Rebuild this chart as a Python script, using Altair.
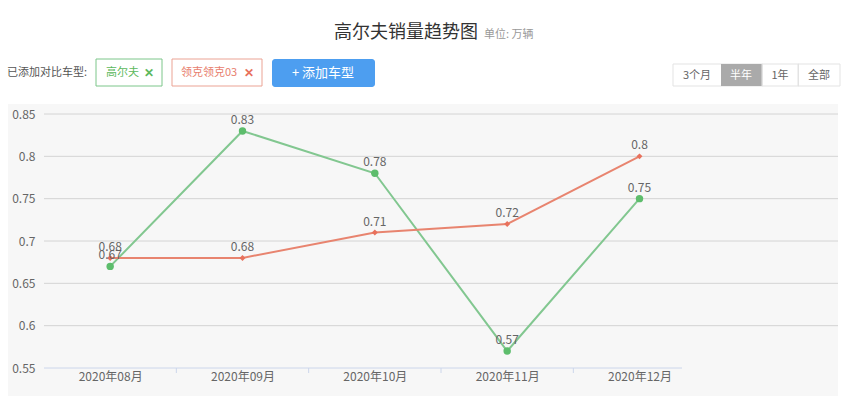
import json
import altair as alt
import pandas as pd

# ---------------- data ----------------
months = ["2020年08月", "2020年09月", "2020年10月", "2020年11月", "2020年12月"]
golf = [0.67, 0.83, 0.78, 0.57, 0.75]
lynk = [0.68, 0.68, 0.71, 0.72, 0.80]
series_names = ["高尔夫", "领克领克03"]
y_ticks = [0.55, 0.6, 0.65, 0.7, 0.75, 0.8, 0.85]
grid_ticks = y_ticks[1:]

FONT = "Noto Sans CJK SC"
W, H = 794, 254
GREEN_LINE, GREEN_PT = "#82c790", "#5dbd6c"
RED_LINE, RED_PT = "#e8846f", "#e8715c"

rows = []
for i, m in enumerate(months):
    rows.append({"i": i, "month": m, "series": series_names[0], "value": golf[i]})
    rows.append({"i": i, "month": m, "series": series_names[1], "value": lynk[i]})
df = pd.DataFrame(rows)
one = pd.DataFrame({"a": [0]})

xscale = alt.Scale(domain=[0, len(months) + 1], nice=False, zero=False)
yscale = alt.Scale(domain=[0.55, 0.85], nice=False, zero=False)
labels_js = json.dumps(months, ensure_ascii=False)

xaxis = alt.Axis(values=[i + 0.5 for i in range(len(months))],
                 labelExpr=f"{labels_js}[floor(datum.value)]",
                 ticks=False, domain=False, grid=False, labelColor="#666",
                 labelFontSize=12, labelFont=FONT, labelPadding=3, title=None, zindex=2)
yaxis = alt.Axis(values=y_ticks, labelExpr="toString(round(datum.value*100)/100)",
                 ticks=False, domain=False, grid=False, labelColor="#666",
                 labelFontSize=12, labelFont=FONT, labelPadding=9, title=None, zindex=2)


def txt(s, x, y, size=11, color="#555", align="left", weight="normal"):
    return alt.Chart(one).mark_text(text=s, font=FONT, fontSize=size, color=color,
                                    align=align, baseline="middle", fontWeight=weight).encode(
        x=alt.value(x), y=alt.value(y))


def box(x1, x2, y1, y2, fill="white", stroke=None, radius=0):
    kw = dict(fill=fill, cornerRadius=radius)
    if stroke:
        kw.update(stroke=stroke, strokeWidth=1)
    return alt.Chart(one).mark_rect(**kw).encode(
        x=alt.value(x1), x2=alt.value(x2), y=alt.value(y1), y2=alt.value(y2))


OX, OY = 44, 114  # plot origin in page pixels

panel = box(8 - OX, 838 - OX, 104 - OY, 396 - OY, fill="#f7f7f7")

grid = alt.Chart(pd.DataFrame({"v": grid_ticks})).mark_rule(color="#d4d4d4", strokeWidth=1).encode(
    y=alt.Y("v:Q", scale=yscale, axis=yaxis), x=alt.value(0), x2=alt.value(W))

axis_line = alt.Chart(one).mark_rule(color="#ccd6eb", strokeWidth=1).encode(
    x=alt.value(0), x2=alt.value(682 - OX), y=alt.value(H))

bounds = alt.Chart(pd.DataFrame({"b": list(range(1, len(months)))})).mark_rule(
    color="#ccd6eb", strokeWidth=1).encode(
    x=alt.X("b:Q", scale=xscale, axis=xaxis), y=alt.value(H), y2=alt.value(H + 5))

# header
header = [
    txt("高尔夫销量趋势图", 334 - OX, 33 - OY, size=18, color="#333"),
    txt("单位: 万辆", 484 - OX, 35 - OY, size=11, color="#999"),
    txt("已添加对比车型:", 7 - OX, 73 - OY, size=11, color="#555"),
    box(96 - OX, 162 - OX, 59 - OY, 86 - OY, stroke="#7cc68a"),
    txt("高尔夫", 106 - OX, 73 - OY, size=11, color="#5cb85c"),
    txt("✕", 144 - OX, 73 - OY, size=12, color="#5cb85c", weight="bold"),
    box(172 - OX, 262 - OX, 59 - OY, 86 - OY, stroke="#eba394"),
    txt("领克领克03", 181 - OX, 73 - OY, size=11, color="#e8806e"),
    txt("✕", 244 - OX, 73 - OY, size=12, color="#e8715c", weight="bold"),
    box(272 - OX, 375 - OX, 59 - OY, 87 - OY, fill="#4d9ef0", radius=3),
    txt("+ 添加车型", 323 - OX, 73 - OY, size=13, color="white", align="center"),
    box(673 - OX, 840 - OX, 64 - OY, 86 - OY, stroke="#e3e3e3"),
    box(721 - OX, 762 - OX, 64 - OY, 86 - OY, fill="#aaaaaa"),
    box(798 - OX, 798.5 - OX, 64 - OY, 86 - OY, stroke="#e3e3e3"),
    box(762 - OX, 762.5 - OX, 64 - OY, 86 - OY, stroke="#e3e3e3"),
    txt("3个月", 697 - OX, 76 - OY, size=11, color="#666", align="center"),
    txt("半年", 741 - OX, 76 - OY, size=11, color="white", align="center"),
    txt("1年", 780 - OX, 76 - OY, size=11, color="#666", align="center"),
    txt("全部", 819 - OX, 76 - OY, size=11, color="#666", align="center"),
]

base = alt.Chart(df).transform_calculate(xc="datum.i + 0.5")
X = alt.X("xc:Q", scale=xscale, axis=xaxis)
Y = alt.Y("value:Q", scale=yscale, axis=yaxis)

lines = base.mark_line(strokeWidth=2).encode(
    x=X, y=Y,
    color=alt.Color("series:N", scale=alt.Scale(domain=series_names, range=[GREEN_LINE, RED_LINE]),
                    legend=None),
    detail="series:N")

points = base.mark_point(filled=True, opacity=1, strokeWidth=0).encode(
    x=X, y=Y,
    fill=alt.Fill("series:N", scale=alt.Scale(domain=series_names, range=[GREEN_PT, RED_PT]),
                  legend=None),
    shape=alt.Shape("series:N", scale=alt.Scale(domain=series_names, range=["circle", "diamond"]),
                    legend=None),
    size=alt.Size("series:N", scale=alt.Scale(domain=series_names, range=[55, 35]), legend=None))

labels = base.mark_text(dy=-11, fontSize=12, color="#666", font=FONT, baseline="middle").encode(
    x=X, y=Y, text=alt.Text("value:Q", format="~g"))

chart = alt.layer(panel, grid, axis_line, bounds, *header, lines, points, labels).properties(
    width=W, height=H,
    padding={"left": OX, "top": OY, "right": 852 - OX - W, "bottom": 398 - OY - H},
    autosize=alt.AutoSizeParams(type="none"),
    background="white",
).configure_view(strokeWidth=0)

chart.save("out.html", embed_options={"renderer": "svg", "actions": False})
